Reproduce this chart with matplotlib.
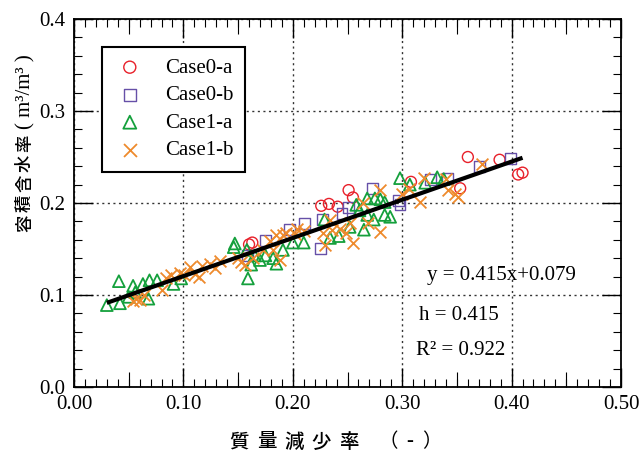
import numpy as np
import matplotlib
matplotlib.use("Agg")
import matplotlib.pyplot as plt
from matplotlib.ticker import MultipleLocator, FixedLocator, NullFormatter

# ---- data: mass loss ratio (x) vs volumetric water content (y) ----
case0a_x = [0.160, 0.163, 0.226, 0.233, 0.241, 0.251, 0.255, 0.308, 0.353, 0.360, 0.389, 0.406, 0.410]
case0a_y = [0.155, 0.157, 0.197, 0.199, 0.196, 0.214, 0.206, 0.223, 0.216, 0.250, 0.247, 0.231, 0.233]

case0b_x = [0.159, 0.175, 0.197, 0.211, 0.225, 0.227, 0.245, 0.251, 0.273, 0.297, 0.298,
            0.326, 0.341, 0.371, 0.399]
case0b_y = [0.143, 0.159, 0.171, 0.178, 0.151, 0.182, 0.189, 0.195, 0.216, 0.203, 0.198,
            0.226, 0.227, 0.240, 0.248]

case1a_x = [0.030, 0.042, 0.041, 0.050, 0.054, 0.056, 0.063, 0.068, 0.069, 0.076, 0.091, 0.098,
            0.146, 0.147, 0.158, 0.159, 0.162, 0.165, 0.170, 0.175, 0.182, 0.185, 0.191, 0.200,
            0.210, 0.229, 0.234, 0.242, 0.252, 0.258, 0.261, 0.265, 0.268, 0.268, 0.274, 0.275,
            0.280, 0.284, 0.284, 0.289, 0.298, 0.307, 0.321, 0.332, 0.338]
case1a_y = [0.089, 0.091, 0.115, 0.098, 0.110, 0.103, 0.112, 0.096, 0.116, 0.116, 0.112, 0.118,
            0.152, 0.156, 0.149, 0.118, 0.133, 0.143, 0.138, 0.143, 0.140, 0.134, 0.149, 0.157,
            0.157, 0.182, 0.162, 0.164, 0.174, 0.198, 0.192, 0.171, 0.205, 0.187, 0.182, 0.205,
            0.204, 0.201, 0.187, 0.185, 0.227, 0.220, 0.222, 0.228, 0.226]

case1b_x = [0.054, 0.057, 0.060, 0.064, 0.080, 0.084, 0.089, 0.097, 0.101, 0.106, 0.111, 0.114,
            0.117, 0.124, 0.129, 0.133, 0.150, 0.153, 0.156, 0.164, 0.173, 0.179, 0.182, 0.185,
            0.188, 0.191, 0.194, 0.202, 0.204, 0.210, 0.228, 0.229, 0.234, 0.236, 0.243, 0.249,
            0.252, 0.255, 0.264, 0.269, 0.280, 0.280, 0.300, 0.306, 0.316, 0.320, 0.340, 0.342,
            0.348, 0.351, 0.373]
case1b_y = [0.093, 0.096, 0.095, 0.100, 0.105, 0.119, 0.122, 0.124, 0.122, 0.130, 0.123, 0.120,
            0.132, 0.134, 0.129, 0.137, 0.140, 0.136, 0.133, 0.140, 0.149, 0.159, 0.149, 0.165,
            0.138, 0.165, 0.167, 0.166, 0.172, 0.170, 0.167, 0.154, 0.182, 0.171, 0.172, 0.167,
            0.178, 0.156, 0.200, 0.178, 0.169, 0.214, 0.210, 0.215, 0.201, 0.227, 0.226, 0.214,
            0.210, 0.206, 0.242]

series_labels = ["Case0-a", "Case0-b", "Case1-a", "Case1-b"]

# regression result
slope = 0.415
intercept = 0.079
h_value = 0.415
r2_value = 0.922

x_ticks = [0.0, 0.1, 0.2, 0.3, 0.4, 0.5]
y_ticks = [0.0, 0.1, 0.2, 0.3, 0.4]

x_title_chars = ["質", "量", "減", "少", "率"]
y_title_chars = ["容", "積", "含", "水", "率"]
unit_open, unit_close = "（", "）"
x_title_unit = "-"
y_title_unit = "( m³/m³ )"

# ---- styling ----
SERIF = ["Liberation Serif", "DejaVu Serif"]
CJK = ["Noto Sans CJK JP", "DejaVu Sans"]

c_red = "#e8202a"
c_purple = "#6650a8"
c_green = "#14a03c"
c_orange = "#ee8a2c"

W, H = 640, 457
fig = plt.figure(figsize=(W / 100, H / 100), dpi=100)
ax = fig.add_axes([74 / W, 1 - 387 / H, 547 / W, 368 / H])

ms = 62
lw = 1.0
ax.scatter(case0a_x, case0a_y, s=ms, marker="o", facecolors="none", edgecolors=c_red,
           linewidths=lw, label=series_labels[0], zorder=3)
ax.scatter(case0b_x, case0b_y, s=ms, marker="s", facecolors="none", edgecolors=c_purple,
           linewidths=lw, label=series_labels[1], zorder=3)
ax.scatter(case1a_x, case1a_y, s=ms + 10, marker="^", facecolors="none", edgecolors=c_green,
           linewidths=lw + 0.3, label=series_labels[2], zorder=3)
ax.scatter(case1b_x, case1b_y, s=ms + 10, marker="x", color=c_orange,
           linewidths=lw + 0.3, label=series_labels[3], zorder=3)

# fitted line across the data range
all_x = np.concatenate([case0a_x, case0b_x, case1a_x, case1b_x])
fx = np.array([all_x.min(), all_x.max()])
ax.plot(fx, slope * fx + intercept, color="black", lw=3.0, solid_capstyle="butt", zorder=4)

# axes limits and ticks
ax.set_xlim(0, 0.5)
ax.set_ylim(0, 0.4)
ax.set_xticks(x_ticks)
ax.set_yticks(y_ticks)
ax.set_xticklabels([f"{v:.2f}" for v in x_ticks], fontfamily=SERIF, fontsize=15)
ax.set_yticklabels([f"{v:.1f}" for v in y_ticks], fontfamily=SERIF, fontsize=15)
ax.xaxis.set_minor_locator(MultipleLocator(0.01))
ax.yaxis.set_minor_locator(MultipleLocator(0.02))
ax.tick_params(which="major", direction="in", length=14, width=1.0, top=True, right=True,
               pad=6, colors="black")
ax.tick_params(which="minor", direction="in", length=6, width=0.8, top=True, right=True)

# half-interval ticks on the x axis (bottom and top)
for side in ("bottom", "top"):
    sec = ax.secondary_xaxis(side)
    sec.xaxis.set_major_locator(FixedLocator([0.05, 0.15, 0.25, 0.35, 0.45]))
    sec.xaxis.set_major_formatter(NullFormatter())
    sec.tick_params(direction="in", length=11, width=0.8)
    sec.spines[side].set_visible(False)

for sp in ax.spines.values():
    sp.set_linewidth(1.3)

ax.grid(which="major", linestyle=(0, (1.5, 2.5)), color="#333333", linewidth=1.0)
ax.set_axisbelow(True)

# legend
leg = ax.legend(loc="upper left", bbox_to_anchor=(0.0506, 0.925), borderaxespad=0,
                frameon=True, fancybox=False, edgecolor="black", framealpha=1,
                prop={"family": SERIF, "size": 15}, handlelength=1.6, handletextpad=0.9,
                labelspacing=0.38, borderpad=0.55, scatterpoints=1, markerscale=1.1)
leg.get_frame().set_linewidth(1.5)
leg.set_zorder(10)

# regression annotations
ax.text(0.391, 0.121, f"y = {slope:.3f}x+{intercept:.3f}", ha="center", va="center",
        fontfamily=SERIF, fontsize=15)
ax.text(0.352, 0.078, f"h = {h_value:.3f}", ha="center", va="center",
        fontfamily=SERIF, fontsize=15)
ax.text(0.353, 0.040, f"R² = {r2_value:.3f}", ha="center", va="center",
        fontfamily=SERIF, fontsize=15)

# x axis title: letter-spaced characters followed by the unit in brackets
x_step = 27.5
xt_y = 1 - 442 / H
for i, ch in enumerate(x_title_chars):
    fig.text((239 + i * x_step) / W, xt_y, ch, ha="center", va="center",
             fontfamily=CJK, fontsize=14, fontweight="medium")
fig.text(388 / W, xt_y, unit_open, ha="center", va="center", fontfamily=CJK, fontsize=14)
fig.text(410 / W, xt_y, x_title_unit, ha="center", va="center", fontfamily=SERIF, fontsize=15)
fig.text(432 / W, xt_y, unit_close, ha="center", va="center", fontfamily=CJK, fontsize=14)

# y axis title (vertical, reading bottom to top), letter-spaced
y_step = 20
yt_x = 25 / W
for i, ch in enumerate(y_title_chars):
    fig.text(yt_x, 1 - (223 - i * y_step) / H, ch, ha="center", va="center",
             rotation=90, fontfamily=CJK, fontsize=12.5, fontweight="medium")
fig.text(yt_x + 1 / W, 1 - 92 / H, y_title_unit, ha="center", va="center", rotation=90,
         fontfamily=SERIF, fontsize=15)

fig.savefig("out.png", dpi=100, facecolor="white")
